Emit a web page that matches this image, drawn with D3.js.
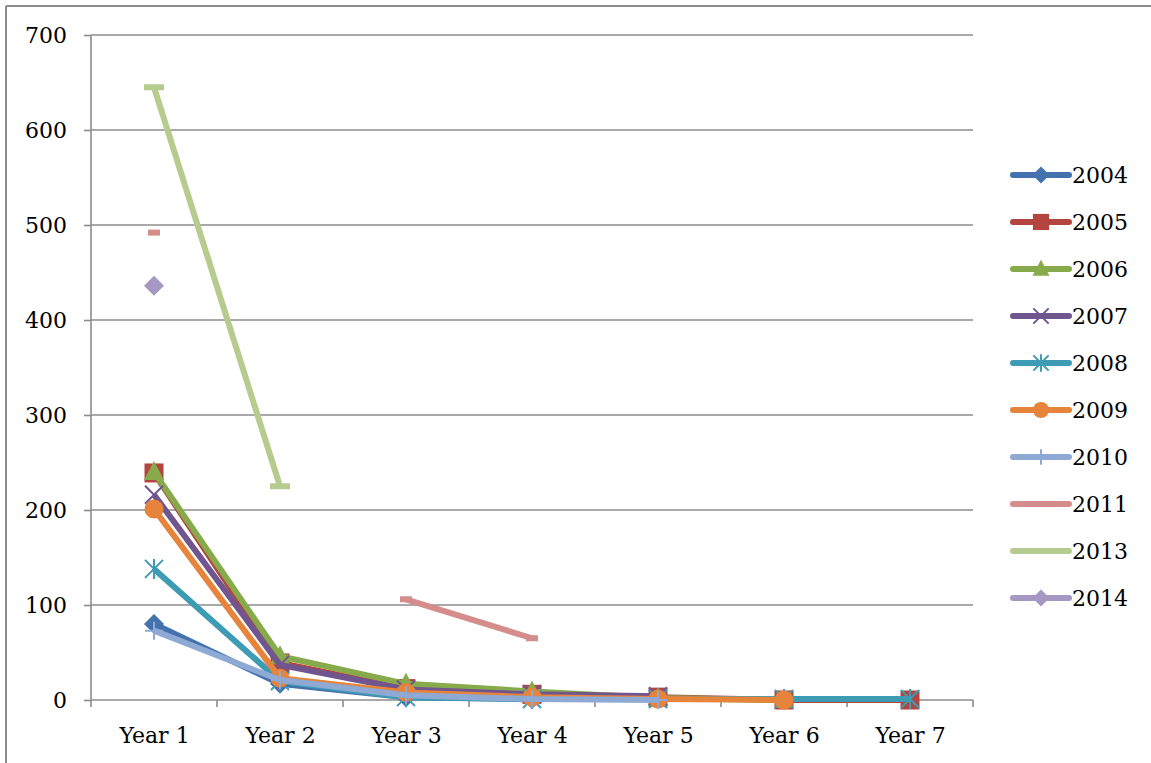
<!DOCTYPE html>
<html><head><meta charset="utf-8">
<script src="https://cdn.jsdelivr.net/npm/d3@7/dist/d3.min.js"></script>
<style>
body{margin:0;background:#fff;}
text{font-family:"DejaVu Serif",serif;fill:#000;}
</style></head>
<body><svg id="c" width="1151" height="763"></svg>
<script>
const categories = ["Year 1","Year 2","Year 3","Year 4","Year 5","Year 6","Year 7"];
const yTicks = [0,100,200,300,400,500,600,700];
const seriesNames = ["2004","2005","2006","2007","2008","2009","2010","2011","2013","2014"];
const v2004 = [80, 17, 3, 1, 1, null, null];
const v2005 = [239, 39, 12, 6, 3, 0, 0];
const v2006 = [240, 46, 17, 9, 2, 0, null];
const v2007 = [216, 37, 11, 6, 4, null, null];
const v2008 = [138, 20, 3, 1, 1, 1, 1];
const v2009 = [201, 23, 8, 3, 1, 0, null];
const v2010 = [73, 21, 5, 1, 0, null, null];
const v2011 = [492, null, 106, 65, null, null, null];
const v2013 = [645, 225, null, null, null, null, null];
const v2014 = [436, null, null, null, null, null, null];
const seriesValues = [v2004,v2005,v2006,v2007,v2008,v2009,v2010,v2011,v2013,v2014];
const colors = ["#4372AE","#B3443F","#87AA4A","#71558F","#3E9BB4","#E5843A","#8EA9D3","#D48D8B","#B5CC8E","#A697C3"];
const markers = ["diamond","square","triangle","x","star","circle","plus","dash","dashWide","diamond"];

const svg = d3.select("#c");
const x = d3.scalePoint().domain(categories).range([91,973]).padding(0.5);
const y = d3.scaleLinear().domain([0,700]).range([700,35]);
const grid = "#8c8c8c";

// outer frame
svg.append("line").attr("x1",6).attr("x2",1151).attr("y1",6).attr("y2",6).attr("stroke",grid).attr("stroke-width",2);
svg.append("line").attr("x1",6).attr("x2",6).attr("y1",6).attr("y2",763).attr("stroke",grid).attr("stroke-width",2);

// gridlines
svg.append("g").selectAll("line").data(yTicks.filter(d=>d>0)).join("line")
  .attr("x1",91).attr("x2",973).attr("y1",d=>y(d)).attr("y2",d=>y(d))
  .attr("stroke",grid).attr("stroke-width",1.6);

// y axis
const yAxis = svg.append("g").attr("transform","translate(91,0)")
  .call(d3.axisLeft(y).tickValues(yTicks).tickSize(7).tickPadding(17));
yAxis.select(".domain").attr("stroke",grid).attr("stroke-width",1.6).attr("d","M0,35V700");
yAxis.selectAll(".tick line").attr("stroke",grid).attr("stroke-width",1.6);
yAxis.selectAll("text").style("font-family","DejaVu Serif").style("font-size","22px").attr("fill","#000");

// x axis
const xAxis = svg.append("g").attr("transform","translate(0,700)")
  .call(d3.axisBottom(x).tickSize(0).tickPadding(27));
xAxis.select(".domain").attr("stroke",grid).attr("stroke-width",1.6).attr("d","M91,0H973");
xAxis.selectAll("text").style("font-family","DejaVu Serif").style("font-size","22px").attr("fill","#000");
// boundary ticks
const step = x.step();
const bounds = d3.range(categories.length+1).map(i => x(categories[0]) - step/2 + i*step);
svg.append("g").selectAll("line").data(bounds).join("line")
  .attr("x1",d=>d).attr("x2",d=>d).attr("y1",700).attr("y2",707)
  .attr("stroke",grid).attr("stroke-width",1.6);

function drawMarker(g, type, cx, cy, color, s){
  s = s || 1;
  if(type==="diamond"){
    g.append("path").attr("d",`M${cx},${cy-10*s}L${cx+10*s},${cy}L${cx},${cy+10*s}L${cx-10*s},${cy}Z`).attr("fill",color);
  } else if(type==="square"){
    g.append("rect").attr("x",cx-9.5*s).attr("y",cy-9.5*s).attr("width",19*s).attr("height",19*s).attr("fill",color);
  } else if(type==="triangle"){
    g.append("path").attr("d",`M${cx},${cy-11*s}L${cx+10*s},${cy+8*s}L${cx-10*s},${cy+8*s}Z`).attr("fill",color);
  } else if(type==="x"){
    const r=9*s;
    g.append("path").attr("d",`M${cx-r},${cy-r}L${cx+r},${cy+r}M${cx+r},${cy-r}L${cx-r},${cy+r}`).attr("stroke",color).attr("stroke-width",2);
  } else if(type==="star"){
    const r=9*s;
    g.append("path").attr("d",`M${cx-r},${cy-r}L${cx+r},${cy+r}M${cx+r},${cy-r}L${cx-r},${cy+r}M${cx},${cy-r-1}L${cx},${cy+r+1}`).attr("stroke",color).attr("stroke-width",2);
  } else if(type==="circle"){
    g.append("circle").attr("cx",cx).attr("cy",cy).attr("r",9.5*s).attr("fill",color);
  } else if(type==="plus"){
    const r=9*s;
    g.append("path").attr("d",`M${cx-r},${cy}L${cx+r},${cy}M${cx},${cy-r}L${cx},${cy+r}`).attr("stroke",color).attr("stroke-width",2);
  } else if(type==="dash"){
    g.append("rect").attr("x",cx-6).attr("y",cy-3).attr("width",12).attr("height",6).attr("fill",color);
  } else if(type==="dashWide"){
    g.append("rect").attr("x",cx-10).attr("y",cy-3).attr("width",20).attr("height",6).attr("fill",color);
  }
}

const line = d3.line().defined(d=>d.v!=null).x(d=>x(d.c)).y(d=>y(d.v));
const plot = svg.append("g");
seriesValues.forEach((vals,i)=>{
  const pts = vals.map((v,j)=>({c:categories[j],v}));
  const g = plot.append("g");
  g.append("path").datum(pts).attr("d",line).attr("fill","none")
    .attr("stroke",colors[i]).attr("stroke-width",6).attr("stroke-linejoin","round");
  pts.filter(p=>p.v!=null).forEach(p=>drawMarker(g,markers[i],x(p.c),y(p.v),colors[i]));
});

// legend
const leg = svg.append("g");
seriesNames.forEach((n,i)=>{
  const cy = 175 + i*47;
  const g = leg.append("g");
  g.append("line").attr("x1",1013).attr("x2",1069).attr("y1",cy).attr("y2",cy)
    .attr("stroke",colors[i]).attr("stroke-width",6).attr("stroke-linecap","round");
  const m = markers[i];
  if(m!=="dash" && m!=="dashWide") drawMarker(g,m,1041,cy,colors[i],0.85);
  g.append("text").attr("x",1072).attr("y",cy).attr("dy","0.36em").style("font-size","22px").text(n);
});
</script></body></html>
